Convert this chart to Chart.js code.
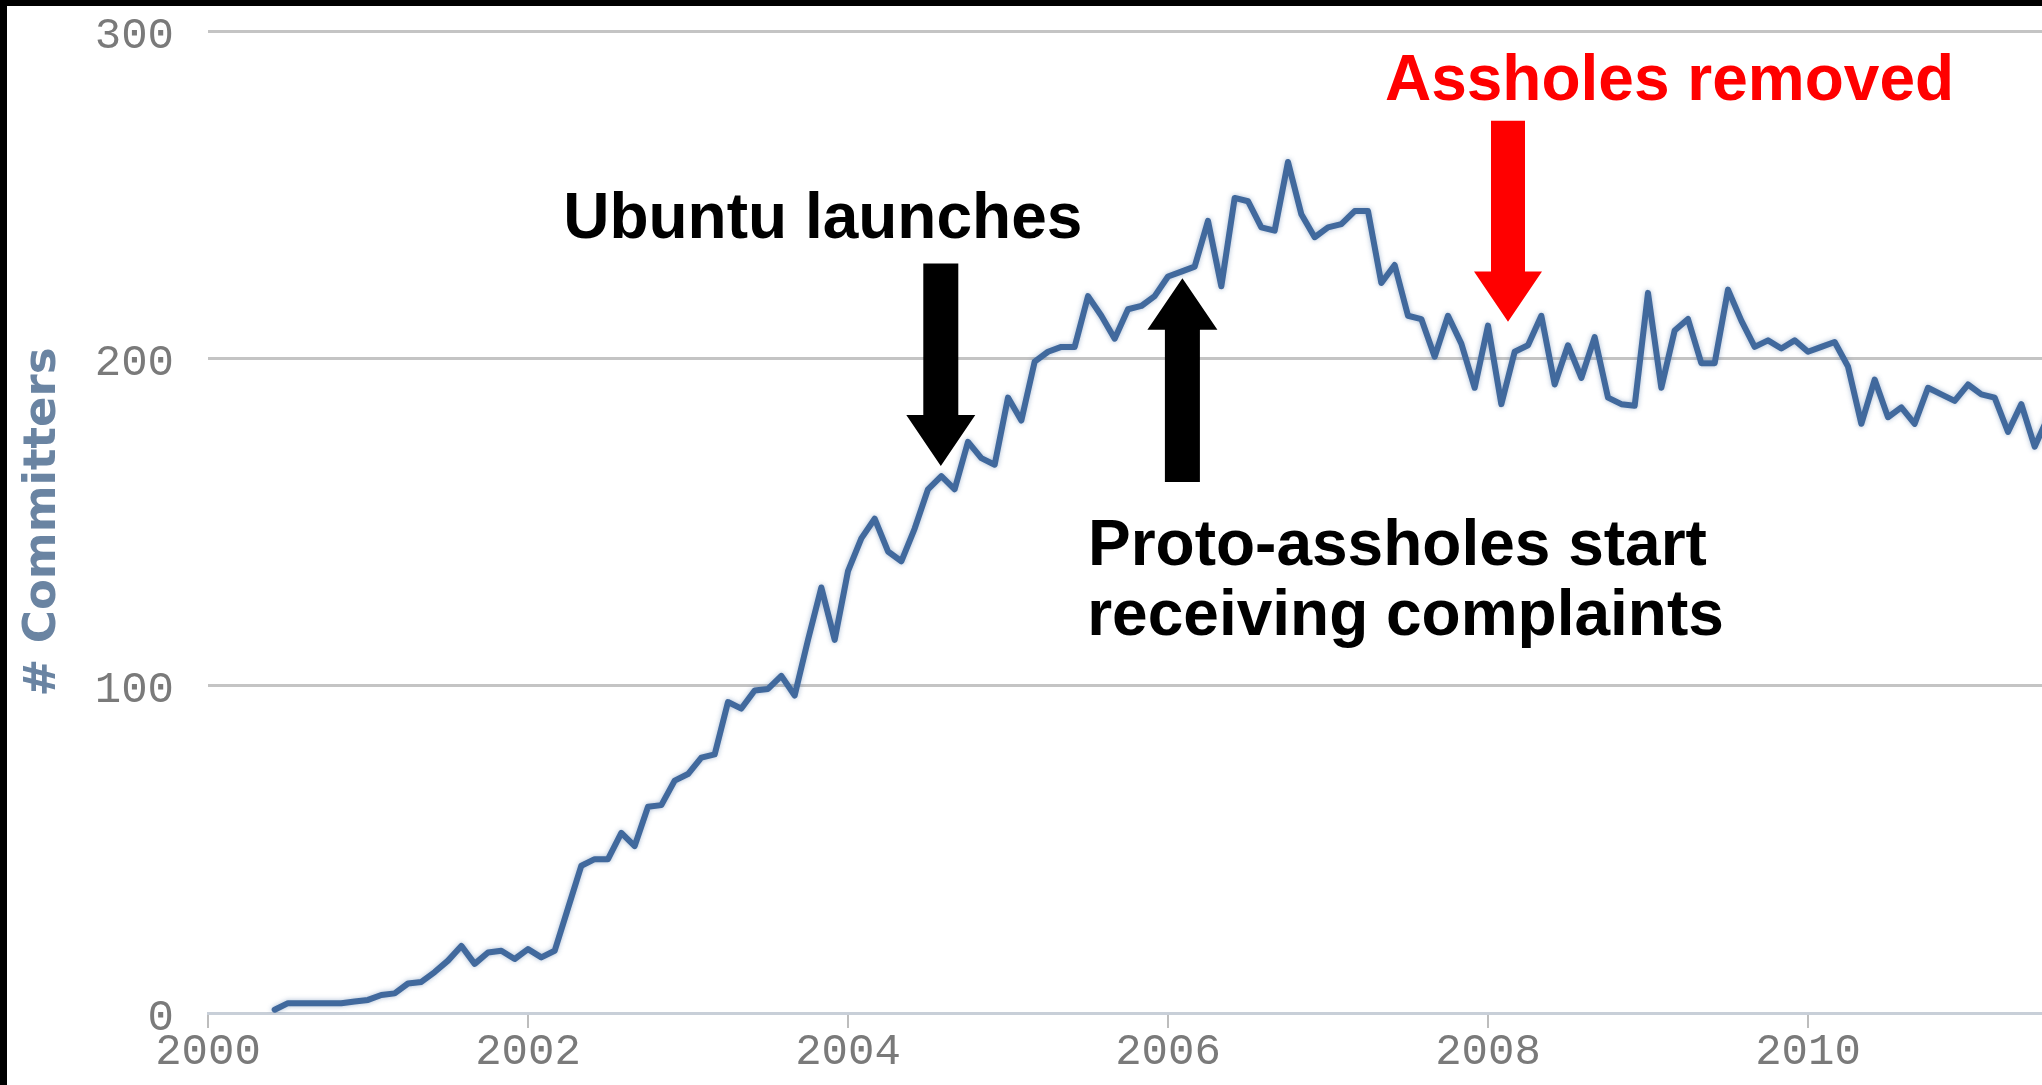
<!DOCTYPE html>
<html><head><meta charset="utf-8">
<script src="https://cdn.jsdelivr.net/npm/chart.js@4/dist/chart.umd.min.js"></script>
<style>
html,body{margin:0;padding:0;background:#fff;overflow:hidden}
#wrap{position:relative;width:2042px;height:1085px}
canvas{position:absolute;left:0;top:0}
.bl{position:absolute;left:0;top:0;width:7px;height:1085px;background:#000}
.bt{position:absolute;left:0;top:0;width:2042px;height:6px;background:#000}
</style></head><body>
<div id="wrap"><canvas id="c" width="2042" height="1085"></canvas><div class="bl"></div><div class="bt"></div></div>
<script>
// ---- data ----
const firstYear = 2000;
const firstMonthIndex = 5; // June 2000, monthly series
const committers = [
  1, 3, 3, 3, 3, 3, 3.5,                       // Jun-Dec 2000
  4, 5.5, 6, 9, 9.5, 12.5, 16, 20.5, 15, 18.5, 19, 16.5,   // 2001
  19.5, 17, 19, 32, 45, 47, 47, 55, 51, 63, 63.5, 71,      // 2002
  73, 78, 79, 95, 93, 98.5, 99, 103, 97, 114, 130, 114,    // 2003
  135, 145, 151, 141, 138, 148, 160, 164, 160, 174.5, 169.5, 167.5, // 2004
  188, 181, 199, 202, 203.5, 203.5, 219, 213, 206, 215, 216, 219,   // 2005
  225, 226.5, 228, 242, 222, 249, 248, 240, 239, 260, 244, 237,     // 2006
  240, 241, 245, 245, 223, 228.5, 213, 212, 200.5, 213, 204.5, 191, // 2007
  210, 186, 202, 204, 213, 192, 204, 194, 206.5, 188, 186, 185.5,   // 2008
  220, 191, 208.5, 212, 198.5, 198.5, 221, 211.5, 203.5, 205.5, 203, 205.5, // 2009
  202, 203.5, 205, 197.5, 180, 193.5, 182, 185, 180, 191, 189, 187, // 2010
  192, 189, 188, 177.5, 186, 173, 182                               // 2011
];
const xTickLabels = ['2000', '2002', '2004', '2006', '2008', '2010'];
const yTickLabels = ['0', '100', '200', '300'];
const yTitle = '# Committers';
const noteTexts = ['Ubuntu launches', 'Proto-assholes start', 'receiving complaints', 'Assholes removed'];

// ---- layout / styling (positions in data units, converted through the scales) ----
const noteLayout = [
  {x: 2002.22,  y: 236.8, color: '#000000'},
  {x: 2005.50,  y: 136.9, color: '#000000'},
  {x: 2005.495, y: 115.5, color: '#000000'},
  {x: 2007.356, y: 278.9, color: '#ff0000'}
];
const arrowLayout = [
  {x: 2004.58, from: 229.0, base: 182.7, tip: 167.1, shaft: 35, head: 69, color: '#000000'},
  {x: 2006.09, from: 162.2, base: 208.7, tip: 224.5, shaft: 35, head: 70, color: '#000000'},
  {x: 2008.125, from: 272.6, base: 226.5, tip: 211.2, shaft: 34, head: 68, color: '#ff0000'}
];

const points = committers.map((v, i) => ({x: firstYear + (firstMonthIndex + i) / 12, y: v}));

const softLine = {
  id: 'softLine',
  beforeDatasetsDraw(chart) {
    const ctx = chart.ctx;
    ctx.save();
    ctx.shadowColor = 'rgba(65,105,157,0.45)';
    ctx.shadowBlur = 5;
  },
  afterDatasetsDraw(chart) { chart.ctx.restore(); }
};

const annotationPlugin = {
  id: 'notes',
  afterDatasetsDraw(chart) {
    const {ctx, scales: {x, y}} = chart;
    ctx.save();
    arrowLayout.forEach(a => {
      const cx = x.getPixelForValue(a.x);
      const yf = y.getPixelForValue(a.from), yb = y.getPixelForValue(a.base), yt = y.getPixelForValue(a.tip);
      ctx.fillStyle = a.color;
      ctx.beginPath();
      ctx.moveTo(cx - a.shaft / 2, yf);
      ctx.lineTo(cx - a.shaft / 2, yb);
      ctx.lineTo(cx - a.head / 2, yb);
      ctx.lineTo(cx, yt);
      ctx.lineTo(cx + a.head / 2, yb);
      ctx.lineTo(cx + a.shaft / 2, yb);
      ctx.lineTo(cx + a.shaft / 2, yf);
      ctx.closePath();
      ctx.fill();
    });
    ctx.font = 'bold 64px "Liberation Sans", Arial, sans-serif';
    ctx.textBaseline = 'alphabetic';
    ctx.textAlign = 'left';
    noteTexts.forEach((t, i) => {
      const n = noteLayout[i];
      ctx.fillStyle = n.color;
      ctx.fillText(t, x.getPixelForValue(n.x), y.getPixelForValue(n.y));
    });
    ctx.restore();
  }
};

new Chart(document.getElementById('c').getContext('2d'), {
  type: 'line',
  data: {datasets: [{
    data: points,
    borderColor: '#41699d',
    borderWidth: 6,
    pointRadius: 0,
    tension: 0,
    fill: false,
    borderJoinStyle: 'round',
    borderCapStyle: 'round'
  }]},
  options: {
    responsive: false,
    animation: false,
    devicePixelRatio: 1,
    layout: {padding: {top: 31, right: 0, bottom: 0, left: 0}},
    plugins: {legend: {display: false}, tooltip: {enabled: false}},
    scales: {
      x: {
        type: 'linear', min: 2000, max: 2011.4625,
        afterBuildTicks: s => { s.ticks = xTickLabels.map(l => ({value: +l})); },
        afterFit: s => { s.height = 72; s.paddingLeft = 0; s.paddingRight = 0; },
        ticks: {
          callback: v => { const l = xTickLabels.find(t => +t === v); return l === undefined ? '' : l; },
          font: {family: '"Liberation Mono", monospace', size: 44},
          color: '#7a7a7a', padding: -2, maxRotation: 0, autoSkip: false
        },
        grid: {drawOnChartArea: false, drawTicks: true, tickLength: 15, color: '#bdbdbd', lineWidth: 2},
        border: {display: true, color: '#c8cfd8', width: 3}
      },
      y: {
        min: 0, max: 300,
        afterBuildTicks: s => { s.ticks = yTickLabels.map(l => ({value: +l})); },
        afterFit: s => { s.width = 208; s.paddingTop = 0; s.paddingBottom = 0; },
        ticks: {
          callback: v => { const l = yTickLabels.find(t => +t === v); return l === undefined ? '' : l; },
          font: {family: '"Liberation Mono", monospace', size: 44},
          color: '#7a7a7a', padding: 34, labelOffset: 5
        },
        grid: {color: c => (c.tick && c.tick.value === 0) ? 'rgba(0,0,0,0)' : '#c4c4c4', lineWidth: 3, drawTicks: false},
        border: {display: false},
        title: {
          display: true, text: yTitle, color: '#6a84a2',
          font: {family: '"DejaVu Sans", sans-serif', size: 45, weight: 'bold'},
          padding: {top: 16, bottom: 0}
        }
      }
    }
  },
  plugins: [softLine, annotationPlugin]
});
</script>
</body></html>
